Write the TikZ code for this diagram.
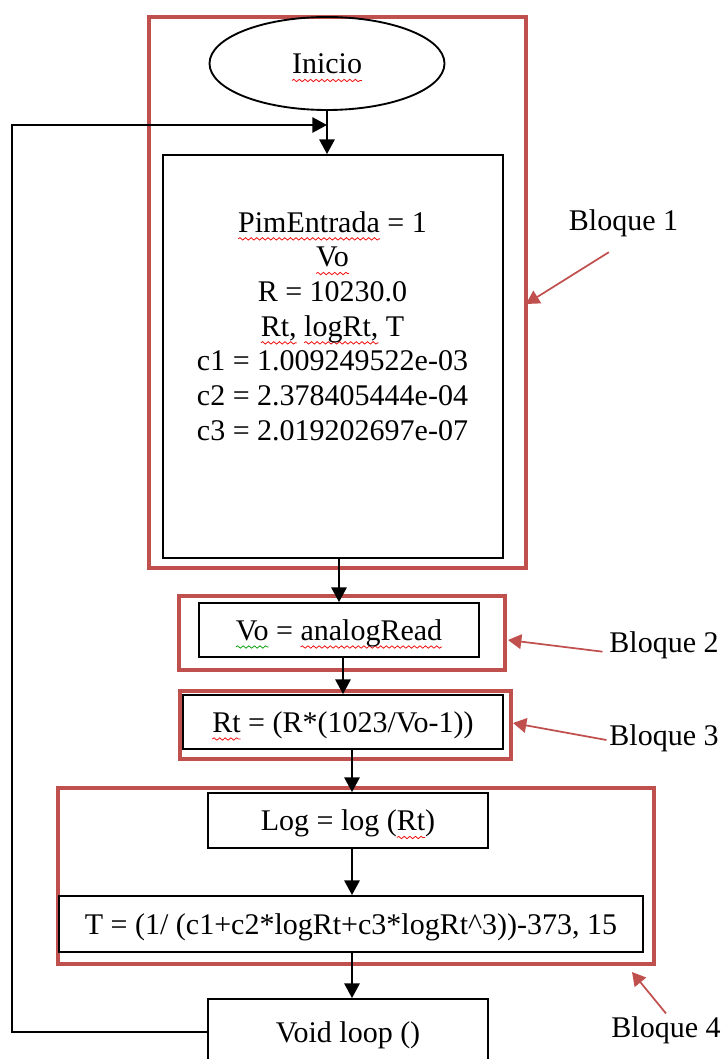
\documentclass[tikz,border=0pt]{standalone}
\usepackage{fontspec}
\setmainfont{Liberation Serif}
\usetikzlibrary{arrows.meta,shapes.geometric,decorations.pathmorphing}

\definecolor{frame}{HTML}{C0504D}
\definecolor{spellred}{HTML}{F01010}
\definecolor{spellgreen}{HTML}{10A010}

% word with a wavy spell-check underline
\newsavebox\wavebox
\newlength\wavelen
\newcommand\wavy[2][spellred]{%
  \sbox\wavebox{#2}\setlength\wavelen{\wd\wavebox}%
  \rlap{\tikz[overlay]\draw[#1,line width=0.6pt,decorate,
      decoration={snake,amplitude=0.9pt,segment length=4.2pt}]
      (0pt,-5pt) -- (\wavelen,-5pt);}%
  \usebox\wavebox}

\tikzset{
  blk/.style={draw, line width=1.4pt, inner sep=0pt, align=center,
              text height=15.5pt, text depth=0pt},
  arr/.style={line width=1.4pt, -{Triangle[width=11.5pt,length=11pt]}},
  framebox/.style={draw=frame, line width=3.6pt},
  callout/.style={draw=frame, line width=1.3pt, -{Triangle[width=11pt,length=10pt]}},
  lbl/.style={inner sep=2pt},
}

\begin{document}
\begin{tikzpicture}[x=0.75pt, y=-0.75pt, font=\fontsize{22.5pt}{26pt}\selectfont]
\useasboundingbox (0,0) rectangle (724,1059);
\clip (0,0) rectangle (724,1059);

% block frames
\draw[framebox] (149,17) rectangle (526,568);
\draw[framebox] (179,596) rectangle (505,670);
\draw[framebox] (180,691) rectangle (511,759);
\draw[framebox] (58,788) rectangle (654,964);

% flowchart nodes
\node[blk, ellipse, minimum width=176.25pt, minimum height=69.75pt] (ini) at (327,63.5) {\wavy{Inicio}};
\node[blk, minimum width=255pt, minimum height=302.25pt] (decl) at (333,356.5) {};
\node[align=center, inner sep=0pt] (decltxt) at (332.5,326)
  {\wavy{PimEntrada} = 1\\
   \wavy{Vo}\\
   R = 10230.0\\
   \wavy{Rt,} \wavy{logRt,} T\\
   c1 = 1.009249522e-03\\
   c2 = 2.378405444e-04\\
   c3 = 2.019202697e-07};
\node[blk, minimum width=210pt, minimum height=40.5pt] (vo) at (339,630)
  {\wavy[spellgreen]{Vo} = \wavy{analogRead}};
\node[blk, minimum width=240pt, minimum height=40.5pt] (rt) at (343,722)
  {\wavy{Rt} = (R*(1023/Vo-1))};
\node[blk, minimum width=210pt, minimum height=41.25pt] (log) at (348,820.5)
  {Log = log (\wavy{Rt})};
\node[blk, minimum width=438pt, minimum height=42pt] (tf) at (351,924)
  {T = (1/ (c1+c2*logRt+c3*logRt\textasciicircum3))-373, 15};
\node[blk, minimum width=210pt, minimum height=49.5pt] (void) at (348,1032)
  {Void loop ()};

% block labels
\node[lbl] (b1) at (623.5,223) {Bloque 1};
\node[lbl] (b2) at (664,645) {Bloque 2};
\node[lbl] (b3) at (664,738) {Bloque 3};
\node[lbl] (b4) at (666,1030) {Bloque 4};

% helper points
\coordinate (join) at (ini.south |- 0,125);
\coordinate (loopx) at (12,0);
\coordinate (spine) at (352,0);
\coordinate (t1) at (526,304);
\coordinate (t2) at (508,640);
\coordinate (t3) at (513,723);
\coordinate (t4) at (632,972);

% flow connectors
\draw[arr] (ini.south) -- (decl.north -| ini.south);
\draw[arr] (void.west) -- (void.west -| loopx) |- (join);
\draw[arr] (decl.south -| vo.north) -- (vo.north);
\draw[arr] (vo.south -| rt.north) -- (rt.north);
\draw[arr] (rt.south -| spine) -- (log.north -| spine);
\draw[arr] (log.south -| spine) -- (tf.north -| spine);
\draw[arr] (tf.south -| spine) -- (void.north -| spine);

% label callouts
\draw[callout] ([xshift=-11pt,yshift=-9.5pt]b1.south) -- (t1);
\draw[callout] ([xshift=-3pt,yshift=-5pt]b2.west) -- (t2);
\draw[callout] ([yshift=-1.5pt]b3.west) -- (t3);
\draw[callout] (b4.north) -- (t4);
\end{tikzpicture}
\end{document}
